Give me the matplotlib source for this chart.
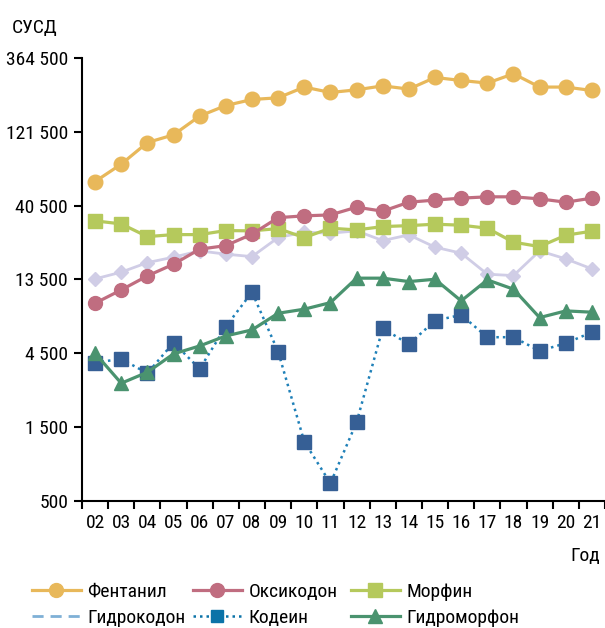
import numpy as np
import matplotlib
matplotlib.use("Agg")
import matplotlib.pyplot as plt
from matplotlib.lines import Line2D
from matplotlib.ticker import FixedLocator, NullFormatter

plt.rcParams['font.family'] = ['Roboto Condensed', 'Liberation Sans', 'DejaVu Sans']

years = ["02", "03", "04", "05", "06", "07", "08", "09", "10", "11",
         "12", "13", "14", "15", "16", "17", "18", "19", "20", "21"]

fentanyl = [58000, 75100, 103600, 116200, 153600, 179700, 196600, 201600, 236500, 218200,
            227000, 240800, 229500, 272800, 260900, 250900, 288200, 236500, 236500, 224800]
oxycodone = [9490, 11560, 14240, 16950, 21200, 22350, 26500, 33900, 34800, 35300,
             39600, 37300, 42650, 44000, 45300, 46200, 46200, 44800, 42650, 45300]
morphine = [32300, 30870, 25560, 26330, 26330, 27960, 27840, 28800, 25190, 28960,
            28240, 29660, 30100, 30740, 30290, 28960, 23520, 22030, 26100, 27700]
hydrocodone = [13620, 15060, 17360, 18820, 20670, 19680, 18980, 25190, 27300, 26890,
               27840, 24090, 26220, 21840, 19970, 14610, 14310, 20670, 18350, 15810]
codeine = [3920, 4140, 3345, 5280, 3570, 6700, 11180, 4615, 1209, 651,
           1613, 6540, 5150, 7320, 7970, 5720, 5720, 4666, 5230, 6160]
hydromorphone = [4505, 2884, 3396, 4462, 5023, 5830, 6376, 8170, 8680, 9570,
                 13770, 13770, 13090, 13550, 9820, 13420, 11690, 7660, 8460, 8300]

y_ticks = [500, 1500, 4500, 13500, 40500, 121500, 364500]

c_fent = "#E8B85A"
c_oxy = "#C06D80"
c_morph = "#B5C95C"
c_hydroc = "#D0CDE6"
c_hydroc_leg = "#7FB0D6"
c_cod = "#365F95"
c_cod_line = "#1F80B8"
c_cod_leg = "#0B73A8"
c_hydrom = "#4A936F"

fs = 14

fig = plt.figure(figsize=(6.05, 6.28), dpi=100)
ax = fig.add_axes([82 / 605, 1 - 501 / 628, 523 / 605, 443 / 628])

x = np.arange(len(years))

ax.plot(x, hydrocodone, color=c_hydroc, lw=2.0, marker="D", ms=7.5, zorder=2)
ax.plot(x, morphine, color=c_morph, lw=2.3, marker="s", ms=9.5, zorder=3)
ax.plot(x, oxycodone, color=c_oxy, lw=2.3, marker="o", ms=10, zorder=4)
ax.plot(x, fentanyl, color=c_fent, lw=2.3, marker="o", ms=10.5, zorder=5)
ax.plot(x, codeine, color=c_cod_line, lw=1.8, ls=(0, (1, 1.6)), zorder=3)
ax.plot(x, codeine, color=c_cod, lw=0, marker="s", ms=9.5, zorder=4)
ax.plot(x, hydromorphone, color=c_hydrom, lw=2.3, marker="^", ms=10, zorder=5)

ax.set_yscale("log")
ax.set_ylim(500, 364500)
ax.set_xlim(-0.5, len(years) - 0.5)
ax.yaxis.set_major_locator(FixedLocator(y_ticks))
ax.yaxis.set_minor_locator(FixedLocator([]))
ax.set_yticklabels([f"{v:,}".replace(",", " ") for v in y_ticks])

ax.set_xticks(x)
ax.set_xticklabels(years)
ax.xaxis.set_minor_locator(FixedLocator(np.arange(-0.5, len(years), 1.0)))
ax.xaxis.set_minor_formatter(NullFormatter())
ax.tick_params(axis="x", which="major", length=0, pad=9, labelsize=fs)
ax.tick_params(axis="x", which="minor", length=6, width=1.5, direction="out")
ax.tick_params(axis="y", which="major", length=6, width=1.5, labelsize=fs, pad=4)

for s in ["top", "right"]:
    ax.spines[s].set_visible(False)
for s in ["left", "bottom"]:
    ax.spines[s].set_linewidth(1.5)

fig.text(12 / 605, 1 - 28 / 628, "СУСД", fontsize=fs, va="center", ha="left")
fig.text(600 / 605, 1 - 556 / 628, "Год", fontsize=fs, va="center", ha="right")

# legend: three columns of two rows, placed by hand
cols = [
    ([Line2D([], [], color=c_fent, lw=2.3, marker="o", ms=10),
      Line2D([], [], color=c_hydroc_leg, lw=2.0, ls=(0, (4, 2.5)))],
     ["Фентанил", "Гидрокодон"], 32),
    ([Line2D([], [], color=c_oxy, lw=2.3, marker="o", ms=10),
      Line2D([], [], color=c_cod_leg, lw=1.8, ls=(0, (1, 1.6)), marker="s", ms=9,
             mfc=c_cod_leg, mec=c_cod_leg)],
     ["Оксикодон", "Кодеин"], 193),
    ([Line2D([], [], color=c_morph, lw=2.3, marker="s", ms=9.5),
      Line2D([], [], color=c_hydrom, lw=2.3, marker="^", ms=10)],
     ["Морфин", "Гидроморфон"], 351),
]
for h, l, xpos in cols:
    fig.legend(h, l, loc="upper left", bbox_to_anchor=(xpos / 605, 1 - 583 / 628),
               frameon=False, fontsize=fs, handlelength=2.5, handletextpad=0.35,
               labelspacing=0.42, borderpad=0, borderaxespad=0)

fig.savefig("out.png", dpi=100)
